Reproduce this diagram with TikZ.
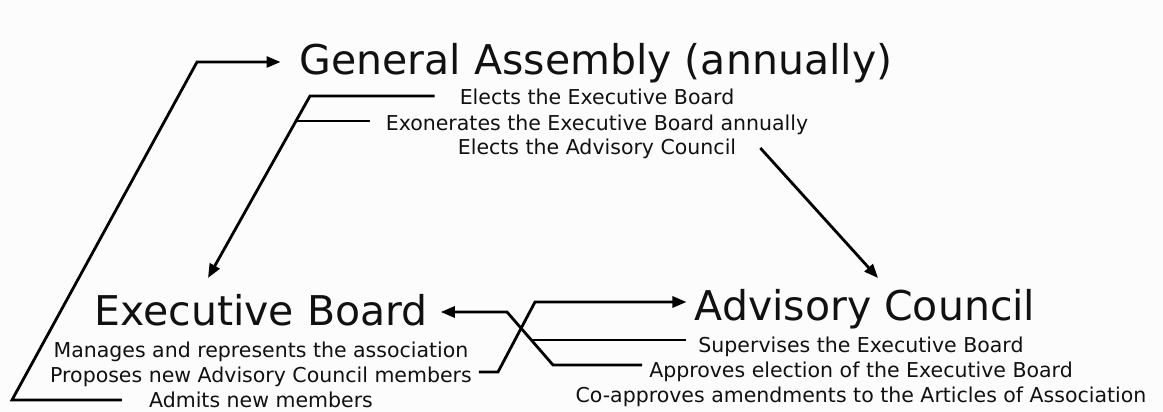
\documentclass[tikz,border=0pt]{standalone}
\usepackage{fontspec}
\setmainfont{DejaVu Sans}
\usetikzlibrary{arrows.meta}
\definecolor{bg}{RGB}{252,252,252}
\definecolor{ink}{RGB}{17,17,17}
\begin{document}
\begin{tikzpicture}[x=1pt,y=-1pt,
  big/.style={anchor=base,inner sep=0pt,text=ink,font=\fontsize{41}{49}\selectfont},
  small/.style={anchor=base,inner sep=0pt,text=ink,font=\fontsize{20.5}{25}\selectfont},
  conn/.style={line width=2.8pt,line join=miter,draw=black},
  arr/.style={conn,-{Triangle[length=14pt,width=11pt]}}]
\fill[bg] (0,0) rectangle (1163,412);
\useasboundingbox (0,0) rectangle (1163,412);

% General Assembly
\node[big] (ga) at (596,75) {General Assembly (annually)};
\node[small] (g1) at (597,105) {Elects the Executive Board};
\node[small] (g2) at (597,130) {Exonerates the Executive Board annually};
\node[small] (g3) at (597,154) {Elects the Advisory Council};

% Executive Board
\node[big] (eb) at (261,325) {Executive Board};
\node[small] (e1) at (261,357) {Manages and represents the association};
\node[small] (e2) at (261,382) {Proposes new Advisory Council members};
\node[small] (e3) at (261,407) {Admits new members};

% Advisory Council
\node[big] (ac) at (865,320) {Advisory Council};
\node[small] (a1) at (861,352) {Supervises the Executive Board};
\node[small] (a2) at (861,377) {Approves election of the Executive Board};
\node[small] (a3) at (861,402) {Co-approves amendments to the Articles of Association};

% bend points
\coordinate (gbend) at (310,96);
\coordinate (gjoin) at (296,121);
\coordinate (ebtip) at (208,278);
\coordinate (actip) at (878,278);
\coordinate (lbot) at (12,400);
\coordinate (ltop) at (197,62);
\coordinate (abot) at (553,365);
\coordinate (atop) at (507,312);
\coordinate (sjoin) at (531,340);
\coordinate (pbot) at (498,372);
\coordinate (ptop) at (535,302);

% General Assembly -> Executive Board
\draw[arr] ([xshift=-25pt,yshift=9pt]g1.base west) -- (gbend) -- (ebtip);
\draw[conn] ([xshift=-16pt,yshift=9pt]g2.base west) -- (gjoin);
% General Assembly -> Advisory Council
\draw[arr] ([xshift=24pt,yshift=6pt]g3.base east) -- (actip);
% Executive Board -> General Assembly
\draw[arr] ([xshift=-27pt,yshift=7pt]e3.base west) -- (lbot) -- (ltop) -- ([xshift=-19pt,yshift=13pt]ga.base west);
% Advisory Council -> Executive Board
\draw[arr] ([xshift=-7pt,yshift=12pt]a2.base west) -- (abot) -- (atop) -- ([xshift=13pt,yshift=13pt]eb.base east);
\draw[conn] ([xshift=-12pt,yshift=12pt]a1.base west) -- (sjoin);
% Executive Board -> Advisory Council
\draw[arr] ([xshift=7pt,yshift=10pt]e2.base east) -- (pbot) -- (ptop) -- ([xshift=-8pt,yshift=18pt]ac.base west);
\end{tikzpicture}
\end{document}
